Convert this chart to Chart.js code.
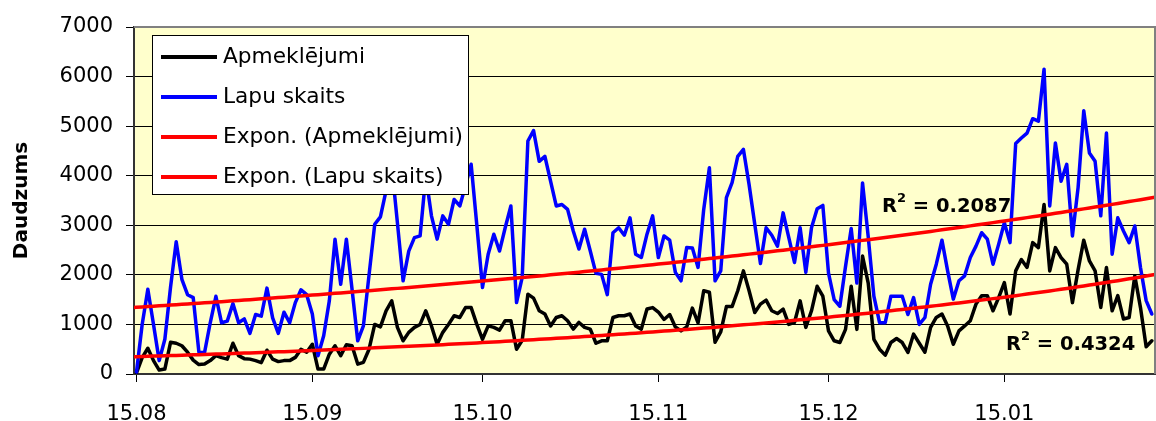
<!DOCTYPE html>
<html>
<head>
<meta charset="utf-8">
<script src="https://cdn.jsdelivr.net/npm/chart.js@4.4.0/dist/chart.umd.min.js"></script>
<style>
  html, body { margin: 0; padding: 0; background: #ffffff; overflow: hidden; }
  #wrap { position: relative; width: 1156px; height: 421px; background: #ffffff; }
</style>
</head>
<body>
<div id="wrap"><canvas id="c"></canvas></div>
<script>
// Day offsets (from 15.08) where the date ticks sit, and their labels
const tickDays = [0, 31, 61, 92, 122, 153];
const tickLabels = ['15.08', '15.09', '15.10', '15.11', '15.12', '15.01'];

// Daily visits, one value per day starting 15.08
const apmeklejumi = [
  20, 330, 520, 270, 80, 100, 640, 620, 570, 440,
  280, 190, 200, 270, 370, 330, 300, 620, 370, 310,
  300, 270, 230, 480, 300, 250, 270, 270, 335, 500,
  440, 600, 100, 100, 400, 570, 370, 590, 570, 200,
  235, 500, 1000, 950, 1275, 1475, 940, 670, 840, 940,
  1000, 1275, 970, 600, 840, 1000, 1175, 1140, 1340, 1340,
  1000, 700, 970, 940, 885, 1075, 1075, 500, 680, 1610,
  1530, 1275, 1210, 970, 1140, 1175, 1075, 905, 1040, 940,
  905, 620, 670, 670, 1140, 1175, 1175, 1210, 970, 905,
  1310, 1340, 1250, 1100, 1200, 950, 870, 950, 1330, 1030,
  1680, 1650, 640, 850, 1360, 1360, 1680, 2080, 1680, 1240,
  1410, 1490, 1275, 1220, 1310, 1000, 1040, 1475, 940, 1275,
  1770, 1570, 870, 670, 635, 900, 1770, 900, 2380, 1835,
  700, 500, 380, 635, 715, 635, 435, 805, 620, 440,
  940, 1140, 1210, 970, 600, 870, 970, 1075, 1410, 1580,
  1580, 1275, 1540, 1845, 1210, 2080, 2310, 2150, 2650, 2550,
  3420, 2080, 2550, 2350, 2215, 1440, 2100, 2700, 2280, 2080,
  1340, 2150, 1275, 1580, 1110, 1140, 1980, 1340, 550, 670
];

// Daily page views, same days
const lapuSkaits = [
  40, 1000, 1710, 1000, 270, 700, 1750, 2670, 1910, 1600,
  1540, 440, 433, 1033, 1567, 1033, 1067, 1420, 1033, 1113,
  820, 1200, 1167, 1733, 1133, 820, 1247, 1033, 1440, 1700,
  1600, 1210, 370, 770, 1480, 2720, 1810, 2720, 1710, 670,
  970, 2000, 3020, 3170, 3700, 4200, 3050, 1880, 2480, 2750,
  2785, 4000, 3190, 2720, 3190, 3020, 3520, 3390, 3800, 4230,
  3000, 1745, 2415, 2820, 2480, 2950, 3390, 1440, 1950, 4700,
  4910, 4290, 4390, 3890, 3390, 3420, 3320, 2885, 2520, 2920,
  2480, 2030, 2010, 1600, 2850, 2950, 2800, 3150, 2415, 2350,
  2820, 3190, 2350, 2785, 2700, 2050, 1880, 2550, 2540, 2150,
  3320, 4160, 1880, 2080, 3560, 3860, 4390, 4530, 3820, 3020,
  2230, 2950, 2800, 2580, 3250, 2750, 2250, 2950, 2050, 2950,
  3335, 3400, 2035, 1500, 1367, 2170, 2935, 1835, 3855, 2770,
  1570, 1035, 1035, 1570, 1570, 1570, 1200, 1540, 1000, 1140,
  1810, 2215, 2700, 2080, 1510, 1880, 1980, 2350, 2580, 2850,
  2720, 2215, 2620, 3050, 2650, 4650, 4760, 4860, 5150, 5100,
  6150, 3390, 4660, 3890, 4230, 2785, 3760, 5310, 4460, 4290,
  3190, 4860, 2415, 3150, 2885, 2650, 2985, 2150, 1480, 1210
];

// Coefficients of determination printed beside the trend lines
const r2Lapu = '0.2087';
const r2Apm = '0.4324';

const X_MIN = -0.44;
const X_MAX = 179.56;

// Least-squares fit of y = a * e^(b*x) on ln(y)
function expFit(values) {
  let n = 0, sx = 0, sy = 0, sxx = 0, sxy = 0;
  values.forEach((v, i) => {
    if (v > 0) {
      const ly = Math.log(v);
      n++; sx += i; sy += ly; sxx += i * i; sxy += i * ly;
    }
  });
  const b = (n * sxy - sx * sy) / (n * sxx - sx * sx);
  const a = Math.exp((sy - b * sx) / n);
  return { a, b };
}

function trendPoints(values) {
  const f = expFit(values);
  const pts = [{ x: X_MIN, y: f.a * Math.exp(f.b * X_MIN) }];
  for (let i = 0; i < values.length; i++) pts.push({ x: i, y: f.a * Math.exp(f.b * i) });
  pts.push({ x: X_MAX, y: f.a * Math.exp(f.b * X_MAX) });
  return pts;
}

const toXY = arr => arr.map((v, i) => ({ x: i, y: v }));

const FONT = 'DejaVu Sans';

// Plot background, frame, legend box and R² labels
const frame = {
  id: 'frame',
  beforeDraw(chart) {
    const { ctx, chartArea: a } = chart;
    ctx.save();
    ctx.fillStyle = '#ffffff';
    ctx.fillRect(0, 0, chart.width, chart.height);
    ctx.fillStyle = '#FFFFCC';
    ctx.fillRect(a.left, a.top, a.right - a.left, a.bottom - a.top);
    ctx.restore();
  },
  afterDraw(chart) {
    const { ctx, chartArea: a } = chart;
    ctx.save();
    // top and right frame
    ctx.strokeStyle = '#808080';
    ctx.lineWidth = 2;
    ctx.beginPath();
    ctx.moveTo(a.left, a.top);
    ctx.lineTo(a.right, a.top);
    ctx.lineTo(a.right, a.bottom);
    ctx.stroke();

    // legend
    const lx = 152.5, ly = 35.5, lw = 316, lh = 159;
    ctx.fillStyle = '#ffffff';
    ctx.fillRect(lx, ly, lw, lh);
    ctx.strokeStyle = '#000000';
    ctx.lineWidth = 1;
    ctx.strokeRect(lx, ly, lw, lh);
    const rows = [57, 97, 137, 177];
    ctx.font = '21.7px "' + FONT + '"';
    ctx.textBaseline = 'alphabetic';
    ctx.textAlign = 'left';
    chart.data.datasets.forEach((ds, i) => {
      const y = rows[i];
      ctx.strokeStyle = ds.borderColor;
      ctx.lineWidth = 4;
      ctx.lineCap = 'butt';
      ctx.beginPath();
      ctx.moveTo(161, y);
      ctx.lineTo(217, y);
      ctx.stroke();
      ctx.fillStyle = '#000000';
      ctx.fillText(ds.label, 223, y + 6);
    });

    // R² labels
    const drawR2 = (x, y, val) => {
      ctx.fillStyle = '#000000';
      ctx.font = 'bold 19.5px "' + FONT + '"';
      ctx.fillText('R', x, y);
      let cx = x + ctx.measureText('R').width;
      ctx.font = 'bold 13px "' + FONT + '"';
      ctx.fillText('2', cx, y - 10);
      cx += ctx.measureText('2').width;
      ctx.font = 'bold 19.5px "' + FONT + '"';
      ctx.fillText(' = ' + val, cx, y);
    };
    drawR2(882, 211.5, r2Lapu);
    drawR2(1006, 350, r2Apm);
    ctx.restore();
  }
};

new Chart(document.getElementById('c'), {
  type: 'line',
  data: {
    datasets: [
      { label: 'Apmeklējumi', data: toXY(apmeklejumi), borderColor: '#000000', borderWidth: 3.5, order: 3 },
      { label: 'Lapu skaits', data: toXY(lapuSkaits), borderColor: '#0000FF', borderWidth: 3.5, order: 2 },
      { label: 'Expon. (Apmeklējumi)', data: trendPoints(apmeklejumi), borderColor: '#FF0000', borderWidth: 3.5, order: 1 },
      { label: 'Expon. (Lapu skaits)', data: trendPoints(lapuSkaits), borderColor: '#FF0000', borderWidth: 3.5, order: 0 }
    ]
  },
  options: {
    responsive: true,
    maintainAspectRatio: false,
    animation: false,
    layout: { padding: { left: 0, right: 1, top: 27, bottom: 0 } },
    elements: {
      point: { radius: 0 },
      line: { tension: 0, fill: false, borderJoinStyle: 'round', borderCapStyle: 'round' }
    },
    plugins: { legend: { display: false }, tooltip: { enabled: false } },
    scales: {
      x: {
        type: 'linear',
        min: X_MIN,
        max: X_MAX,
        afterBuildTicks: s => { s.ticks = tickDays.map(v => ({ value: v })); },
        afterFit: s => { s.height = 47; },
        ticks: {
          autoSkip: false,
          maxRotation: 0,
          padding: 20,
          color: '#000000',
          font: { family: FONT, size: 21 },
          callback: (v, i) => tickLabels[i]
        },
        grid: { display: true, drawOnChartArea: false, drawTicks: true, tickLength: 8, color: '#000000', lineWidth: 1 },
        border: { display: true, color: '#333333', width: 2 }
      },
      y: {
        min: 0,
        max: 7000,
        afterFit: s => { s.width = 134; },
        ticks: {
          stepSize: 1000,
          padding: 13,
          color: '#000000',
          font: { family: FONT, size: 21 },
          callback: v => String(v)
        },
        grid: { display: true, drawOnChartArea: true, drawTicks: true, color: '#000000', lineWidth: 1, tickLength: 8 },
        border: { display: true, color: '#333333', width: 2 },
        title: {
          display: true,
          text: 'Daudzums',
          color: '#000000',
          font: { family: FONT, size: 20, weight: 'bold' },
          padding: { top: 10, bottom: 0 }
        }
      }
    }
  },
  plugins: [frame]
});
</script>
</body>
</html>
